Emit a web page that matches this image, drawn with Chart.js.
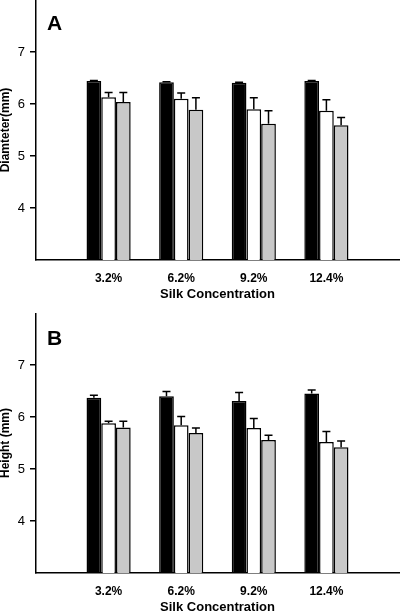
<!DOCTYPE html>
<html>
<head>
<meta charset="utf-8">
<script src="https://cdn.jsdelivr.net/npm/chart.js@4"></script>
<style>
html, body { margin: 0; padding: 0; background: #fff; width: 400px; height: 613px; overflow: hidden; }
.panel { position: absolute; left: 0; width: 410px; height: 313px; }
#panelA { top: 0; }
#panelB { top: 313px; }
.letter { position: absolute; left: 47px; font: bold 21px "Liberation Sans", Arial, sans-serif; color: #000; }
</style>
</head>
<body>
<div class="panel" id="panelA">
    <canvas id="canvasA" width="410" height="313"></canvas>
    <div class="letter" style="top:11px;">A</div>
</div>
<div class="panel" id="panelB">
    <canvas id="canvasB" width="410" height="313"></canvas>
    <div class="letter" style="top:13px;">B</div>
</div>
<script>
// カテゴリ
var categories = ['3.2%', '6.2%', '9.2%', '12.4%'];
var yTicks = [4, 5, 6, 7];

// A: 直径
var diaBlack = [6.44, 6.42, 6.41, 6.44];
var diaBlackErr = [0.01, 0.01, 0.01, 0.01];
var diaWhite = [6.13, 6.10, 5.90, 5.87];
var diaWhiteErr = [0.09, 0.11, 0.22, 0.21];
var diaGray = [6.04, 5.89, 5.62, 5.59];
var diaGrayErr = [0.18, 0.23, 0.25, 0.15];

// B: 高さ
var hBlack = [6.37, 6.40, 6.31, 6.45];
var hBlackErr = [0.05, 0.09, 0.16, 0.07];
var hWhite = [5.88, 5.84, 5.79, 5.52];
var hWhiteErr = [0.04, 0.17, 0.18, 0.20];
var hGray = [5.80, 5.69, 5.56, 5.42];
var hGrayErr = [0.12, 0.10, 0.09, 0.12];

var fontFamily = '"Liberation Sans", Arial, sans-serif';

// 両端に空のカテゴリを入れる
function pad(arr) {
    return [null].concat(arr, [null]);
}

// エラーバー（上側のみ）
var errorBarPlugin = {
    id: 'errorBars',
    afterDatasetsDraw: function(chart) {
        var ctx = chart.ctx;
        var yScale = chart.scales.y;
        var errs = chart.options.plugins.errorBars.errors;
        ctx.save();
        ctx.strokeStyle = '#000';
        ctx.lineWidth = 1.5;
        chart.data.datasets.forEach(function(ds, i) {
            var meta = chart.getDatasetMeta(i);
            meta.data.forEach(function(bar, j) {
                var v = ds.data[j];
                var e = errs[i][j];
                if (v == null || e == null) return;
                var yBase = yScale.getPixelForValue(v);
                var yTop = yScale.getPixelForValue(v + e);
                ctx.beginPath();
                ctx.moveTo(bar.x, yBase);
                ctx.lineTo(bar.x, yTop);
                ctx.moveTo(bar.x - 4, yTop);
                ctx.lineTo(bar.x + 4, yTop);
                ctx.stroke();
            });
        });
        ctx.restore();
    }
};

function makeChart(canvasId, yTitle, black, white, gray, errs) {
    var ctx = document.getElementById(canvasId).getContext('2d');
    return new Chart(ctx, {
        type: 'bar',
        data: {
            labels: [''].concat(categories, ['']),
            datasets: [
                { label: 'black', data: pad(black), backgroundColor: '#000', borderColor: '#000', borderWidth: 1.5 },
                { label: 'white', data: pad(white), backgroundColor: '#fff', borderColor: '#000', borderWidth: 1.5 },
                { label: 'gray', data: pad(gray), backgroundColor: '#c8c8c8', borderColor: '#000', borderWidth: 1.5 }
            ]
        },
        options: {
            responsive: false,
            animation: false,
            layout: { padding: { left: 0, right: 4, top: 0, bottom: 0 } },
            datasets: { bar: { barPercentage: 1, categoryPercentage: 0.608 } },
            plugins: {
                legend: { display: false },
                tooltip: { enabled: false },
                errorBars: { errors: [pad(errs[0]), pad(errs[1]), pad(errs[2])] }
            },
            scales: {
                x: {
                    type: 'category',
                    offset: false,
                    grid: { display: false, drawTicks: false },
                    border: { display: true, color: '#000', width: 1.5 },
                    ticks: {
                        color: '#000',
                        font: { family: fontFamily, size: 12, weight: 'bold' },
                        padding: 11,
                        autoSkip: false,
                        maxRotation: 0
                    },
                    title: {
                        display: true,
                        text: 'Silk Concentration',
                        color: '#000',
                        font: { family: fontFamily, size: 13, weight: 'bold', lineHeight: 1.2 },
                        padding: { top: 0, bottom: 11 }
                    },
                    afterFit: function(scale) { scale.height = 53; }
                },
                y: {
                    min: 3,
                    max: 8,
                    grid: { drawOnChartArea: false, drawTicks: true, tickLength: 6, color: '#000', lineWidth: 1.5 },
                    border: { display: true, color: '#000', width: 1.5 },
                    ticks: {
                        stepSize: 1,
                        color: '#000',
                        font: { family: fontFamily, size: 13 },
                        padding: 5
                    },
                    afterBuildTicks: function(scale) {
                        scale.ticks = yTicks.map(function(v) { return { value: v }; });
                    },
                    title: {
                        display: true,
                        text: yTitle,
                        color: '#000',
                        font: { family: fontFamily, size: 12, weight: 'bold', lineHeight: 1 },
                        padding: 0
                    },
                    afterFit: function(scale) {
                        scale.width = 36;
                        // 軸の上下の余白をなくす
                        scale.paddingTop = 0;
                        scale.paddingBottom = 0;
                    }
                }
            }
        },
        plugins: [errorBarPlugin]
    });
}

document.addEventListener('DOMContentLoaded', function() {
    makeChart('canvasA', 'Diamteter(mm)', diaBlack, diaWhite, diaGray, [diaBlackErr, diaWhiteErr, diaGrayErr]);
    makeChart('canvasB', 'Height (mm)', hBlack, hWhite, hGray, [hBlackErr, hWhiteErr, hGrayErr]);
});
</script>
</body>
</html>
